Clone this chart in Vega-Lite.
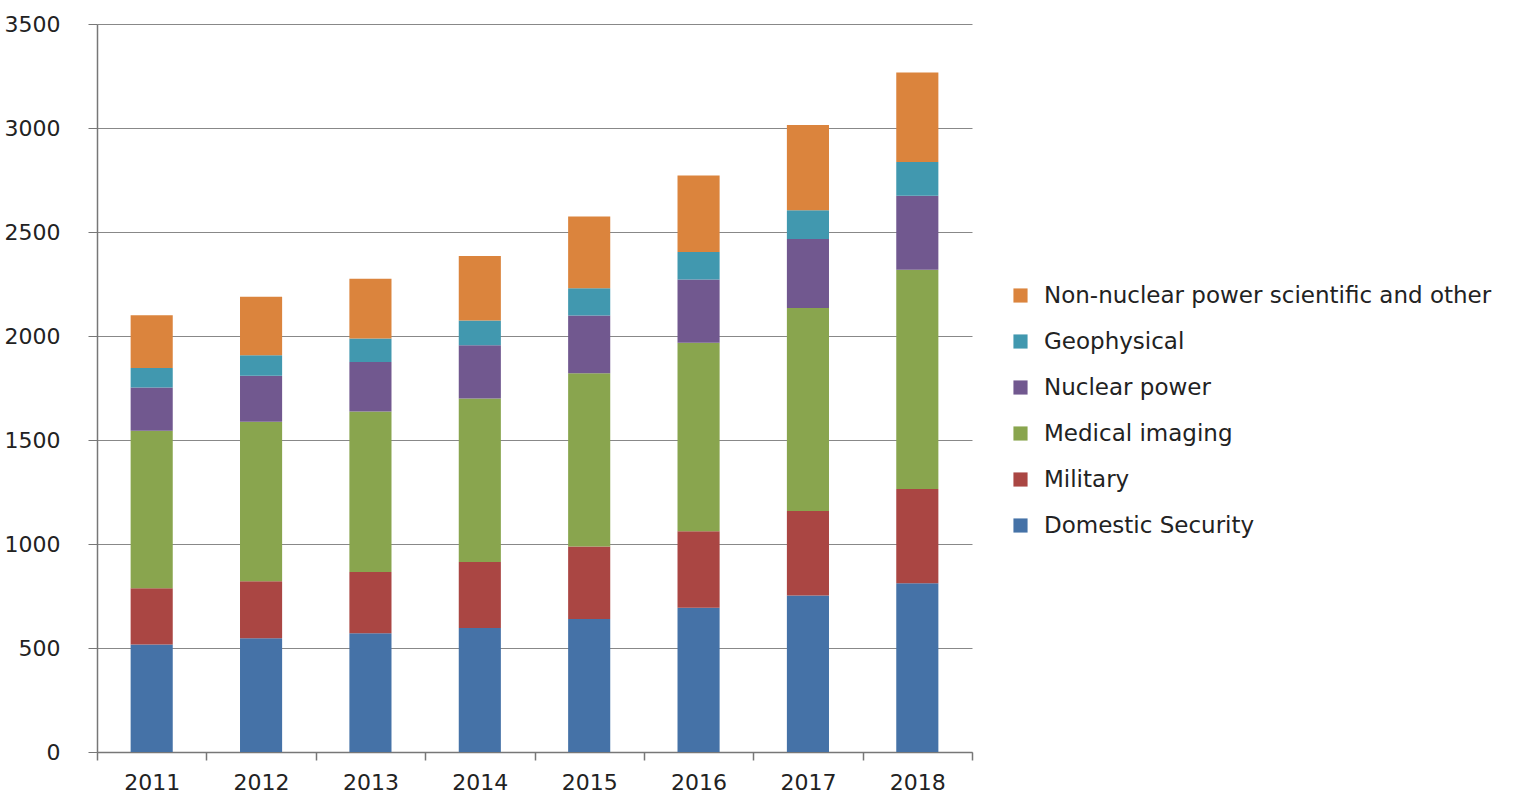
{
  "$schema": "https://vega.github.io/schema/vega-lite/v6.json",
  "autosize": {"type": "none"},
  "padding": {"left": 97, "top": 24, "right": 549, "bottom": 42},
  "width": 875,
  "height": 728,
  "background": "white",
  "config": {
    "font": "DejaVu Sans",
    "view": {"stroke": null}
  },
  "data": {
    "values": [
      {"year": "2011", "segment": "Domestic Security", "value": 517},
      {"year": "2011", "segment": "Military", "value": 270},
      {"year": "2011", "segment": "Medical imaging", "value": 757},
      {"year": "2011", "segment": "Nuclear power", "value": 208},
      {"year": "2011", "segment": "Geophysical", "value": 94},
      {"year": "2011", "segment": "Non-nuclear power scientific and other", "value": 254},
      {"year": "2012", "segment": "Domestic Security", "value": 547},
      {"year": "2012", "segment": "Military", "value": 274},
      {"year": "2012", "segment": "Medical imaging", "value": 767},
      {"year": "2012", "segment": "Nuclear power", "value": 221},
      {"year": "2012", "segment": "Geophysical", "value": 98},
      {"year": "2012", "segment": "Non-nuclear power scientific and other", "value": 282},
      {"year": "2013", "segment": "Domestic Security", "value": 571},
      {"year": "2013", "segment": "Military", "value": 294},
      {"year": "2013", "segment": "Medical imaging", "value": 772},
      {"year": "2013", "segment": "Nuclear power", "value": 238},
      {"year": "2013", "segment": "Geophysical", "value": 113},
      {"year": "2013", "segment": "Non-nuclear power scientific and other", "value": 287},
      {"year": "2014", "segment": "Domestic Security", "value": 596},
      {"year": "2014", "segment": "Military", "value": 318},
      {"year": "2014", "segment": "Medical imaging", "value": 785},
      {"year": "2014", "segment": "Nuclear power", "value": 257},
      {"year": "2014", "segment": "Geophysical", "value": 118},
      {"year": "2014", "segment": "Non-nuclear power scientific and other", "value": 311},
      {"year": "2015", "segment": "Domestic Security", "value": 640},
      {"year": "2015", "segment": "Military", "value": 348},
      {"year": "2015", "segment": "Medical imaging", "value": 833},
      {"year": "2015", "segment": "Nuclear power", "value": 277},
      {"year": "2015", "segment": "Geophysical", "value": 132},
      {"year": "2015", "segment": "Non-nuclear power scientific and other", "value": 344},
      {"year": "2016", "segment": "Domestic Security", "value": 694},
      {"year": "2016", "segment": "Military", "value": 367},
      {"year": "2016", "segment": "Medical imaging", "value": 907},
      {"year": "2016", "segment": "Nuclear power", "value": 304},
      {"year": "2016", "segment": "Geophysical", "value": 132},
      {"year": "2016", "segment": "Non-nuclear power scientific and other", "value": 368},
      {"year": "2017", "segment": "Domestic Security", "value": 752},
      {"year": "2017", "segment": "Military", "value": 407},
      {"year": "2017", "segment": "Medical imaging", "value": 976},
      {"year": "2017", "segment": "Nuclear power", "value": 331},
      {"year": "2017", "segment": "Geophysical", "value": 139},
      {"year": "2017", "segment": "Non-nuclear power scientific and other", "value": 410},
      {"year": "2018", "segment": "Domestic Security", "value": 811},
      {"year": "2018", "segment": "Military", "value": 454},
      {"year": "2018", "segment": "Medical imaging", "value": 1054},
      {"year": "2018", "segment": "Nuclear power", "value": 355},
      {"year": "2018", "segment": "Geophysical", "value": 162},
      {"year": "2018", "segment": "Non-nuclear power scientific and other", "value": 431}
    ]
  },
  "transform": [
    {"calculate": "indexof(['Domestic Security','Military','Medical imaging','Nuclear power','Geophysical','Non-nuclear power scientific and other'], datum.segment)", "as": "stackOrder"}
  ],
  "mark": {"type": "bar", "width": {"band": 0.385}},
  "encoding": {
    "x": {
      "field": "year",
      "type": "ordinal",
      "scale": {"paddingInner": 0, "paddingOuter": 0},
      "axis": {
        "title": null,
        "labelAngle": 0,
        "labelFontSize": 22,
        "labelColor": "#222",
        "labelPadding": 12,
        "domainColor": "#777",
        "domainWidth": 1.5,
        "tickColor": "#777",
        "tickWidth": 1.5,
        "tickSize": 8,
        "tickBand": "extent",
        "grid": false
      }
    },
    "y": {
      "field": "value",
      "type": "quantitative",
      "stack": "zero",
      "scale": {"domain": [0, 3500], "nice": false},
      "axis": {
        "title": null,
        "values": [0, 500, 1000, 1500, 2000, 2500, 3000, 3500],
        "format": "d",
        "labelFontSize": 22,
        "labelColor": "#222",
        "labelPadding": 28,
        "domainColor": "#777",
        "domainWidth": 1.5,
        "tickColor": "#777",
        "tickSize": 9,
        "gridColor": "#888",
        "gridWidth": 1,
        "labelBaseline": "middle",
        "labelFlush": false
      }
    },
    "color": {
      "field": "segment",
      "type": "nominal",
      "scale": {
        "domain": ["Non-nuclear power scientific and other", "Geophysical", "Nuclear power", "Medical imaging", "Military", "Domestic Security"],
        "range": ["#DB843D", "#4198AF", "#71588F", "#89A54E", "#AA4643", "#4572A7"]
      },
      "legend": {
        "title": null,
        "orient": "none",
        "legendX": 912,
        "legendY": 260,
        "symbolType": "square",
        "symbolSize": 200,
        "symbolStrokeWidth": 0,
        "labelFontSize": 23,
        "labelColor": "#222",
        "labelOffset": 12,
        "rowPadding": 22,
        "labelLimit": 600
      }
    },
    "order": {"field": "stackOrder", "type": "quantitative", "sort": "ascending"}
  }
}
